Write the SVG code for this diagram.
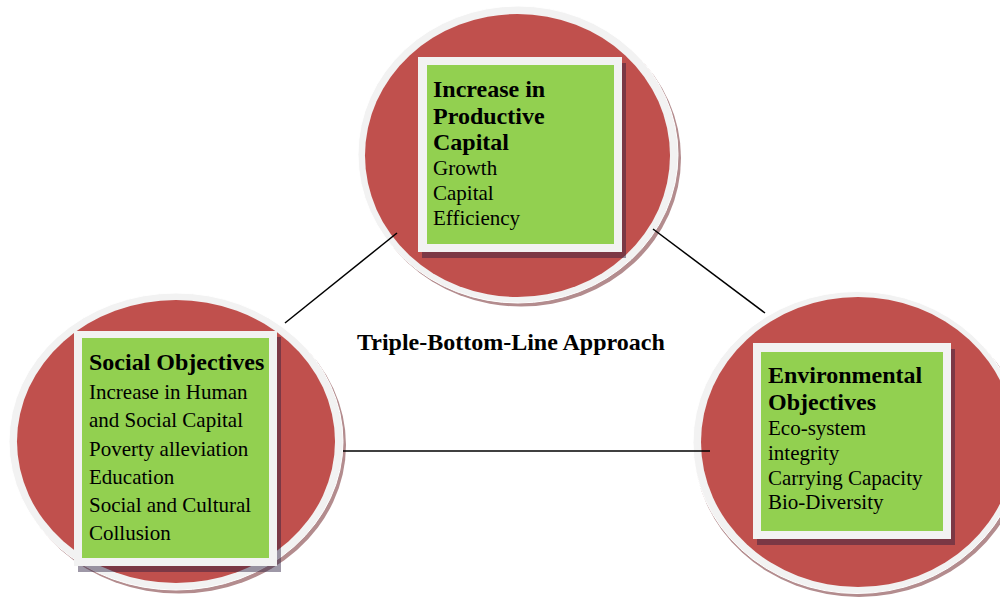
<svg xmlns="http://www.w3.org/2000/svg" width="1000" height="598" viewBox="0 0 1000 598">
  <style>
    .shade { fill: #b38c8e; }
    .ring { fill: #f2f2f2; stroke: #ffffff; stroke-width: 1; }
    .disc { fill: #c0504d; }
    .frame { fill: #f2f2f2; }
    .drop { fill: #281a3c; fill-opacity: 0.45; }
    .panel { fill: #92d050; }
    .head { font-family: "Liberation Serif", "Times New Roman", serif; font-weight: bold; font-size: 24px; fill: #000; }
    .item { font-family: "Liberation Serif", "Times New Roman", serif; font-size: 21px; fill: #000; }
    .link { stroke: #000; stroke-width: 1.5; fill: none; }
  </style>
  <rect width="1000" height="598" fill="#ffffff"/>

  <!-- economic pillar -->
  <g id="node-productive-capital">
    <ellipse class="shade" cx="521" cy="158" rx="160" ry="148.5"/>
    <ellipse class="ring" cx="518" cy="154.5" rx="160" ry="148.5"/>
    <ellipse class="disc" cx="517.5" cy="155.5" rx="152.5" ry="141.5"/>
    <rect class="drop" x="422" y="63" width="204" height="195"/>
    <rect class="frame" x="418" y="57" width="204" height="195"/>
    <rect class="panel" x="427" y="65" width="187" height="179"/>
    <text class="head" x="433" y="97">Increase in</text>
    <text class="head" x="433" y="123.5">Productive</text>
    <text class="head" x="433" y="150">Capital</text>
    <text class="item" x="433" y="175">Growth</text>
    <text class="item" x="433" y="200">Capital</text>
    <text class="item" x="433" y="225">Efficiency</text>
  </g>

  <!-- social pillar -->
  <g id="node-social-objectives">
    <ellipse class="shade" cx="179" cy="445" rx="167" ry="148.5"/>
    <ellipse class="ring" cx="176" cy="441.5" rx="167" ry="148.5"/>
    <ellipse class="disc" cx="176" cy="441.5" rx="159" ry="141.5"/>
    <rect class="drop" x="78" y="337" width="203" height="235"/>
    <rect class="frame" x="74" y="331" width="203" height="235"/>
    <rect class="panel" x="82" y="338" width="187" height="220"/>
    <text class="head" x="89" y="370">Social Objectives</text>
    <text class="item" x="89" y="399">Increase in Human</text>
    <text class="item" x="89" y="427">and Social Capital</text>
    <text class="item" x="89" y="456">Poverty alleviation</text>
    <text class="item" x="89" y="484">Education</text>
    <text class="item" x="89" y="512">Social and Cultural</text>
    <text class="item" x="89" y="540">Collusion</text>
  </g>

  <!-- environmental pillar -->
  <g id="node-environmental-objectives">
    <ellipse class="shade" cx="859" cy="446" rx="165" ry="151"/>
    <ellipse class="ring" cx="857" cy="442.5" rx="164" ry="151"/>
    <ellipse class="disc" cx="858" cy="442" rx="157" ry="145"/>
    <rect class="drop" x="757" y="349" width="198" height="196"/>
    <rect class="frame" x="753" y="343" width="198" height="196"/>
    <rect class="panel" x="761" y="352" width="182" height="179"/>
    <text class="head" x="768" y="383">Environmental</text>
    <text class="head" x="768" y="410">Objectives</text>
    <text class="item" x="768" y="435">Eco-system</text>
    <text class="item" x="768" y="459.5">integrity</text>
    <text class="item" x="768" y="485">Carrying Capacity</text>
    <text class="item" x="768" y="509">Bio-Diversity</text>
  </g>

  <!-- central caption -->
  <g id="caption">
    <text class="head" x="357" y="350">Triple-Bottom-Line Approach</text>
  </g>

  <!-- connectors between the three pillars, drawn over the rings -->
  <g id="connectors">
    <line class="link" x1="285" y1="323" x2="397" y2="233"/>
    <line class="link" x1="653" y1="229" x2="765" y2="313"/>
    <line class="link" x1="343" y1="451" x2="710" y2="451"/>
  </g>
</svg>
